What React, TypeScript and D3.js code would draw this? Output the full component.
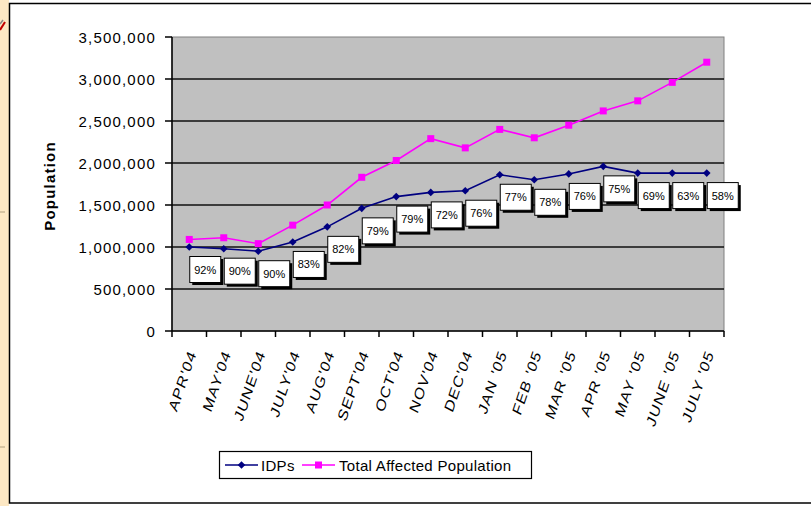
import React from 'react';
import { scaleBand, scaleLinear, line, format } from 'd3';

const months = ["APR'04", "MAY'04", "JUNE'04", "JULY'04", "AUG'04", "SEPT'04", "OCT'04", "NOV'04", "DEC'04",
  "JAN '05", "FEB '05", "MAR '05", "APR '05", "MAY '05", "JUNE '05", "JULY '05"];
const idps = [1000000, 980000, 950000, 1060000, 1240000, 1460000, 1600000, 1650000, 1670000,
  1860000, 1800000, 1870000, 1960000, 1880000, 1880000, 1880000];
const totalAffected = [1090000, 1110000, 1040000, 1260000, 1500000, 1830000, 2030000, 2290000, 2180000,
  2400000, 2300000, 2450000, 2620000, 2740000, 2960000, 3200000];
const idpShare = ["92%", "90%", "90%", "83%", "82%", "79%", "79%", "72%", "76%", "77%", "78%", "76%", "75%", "69%", "63%", "58%"];
const yTicks = [0, 500000, 1000000, 1500000, 2000000, 2500000, 3000000, 3500000];

const W = 811, H = 506;
const plot = { left: 172, right: 724, top: 37, bottom: 331 };
const font = "'Liberation Sans', Arial, sans-serif";
const navy = "#000080";
const magenta = "#ff00ff";

export default function App() {
  const x = scaleBand<string>().domain(months).range([plot.left, plot.right]);
  const y = scaleLinear().domain([0, 3500000]).range([plot.bottom, plot.top]);
  const cx = (i: number) => (x(months[i]) as number) + x.bandwidth() / 2;
  const fmt = format(",");

  const pathOf = line<number>().x((_, i) => cx(i)).y(d => y(d));

  const diamond = (px: number, py: number, r = 3.8) =>
    `M${px},${py - r}L${px + r},${py}L${px},${py + r}L${px - r},${py}Z`;

  const boxW = 31, boxH = 26, shadow = 3;

  return (
    <svg width={W} height={H} viewBox={`0 0 ${W} ${H}`}
      style={{ position: 'absolute', left: 0, top: 0, background: '#fff' }}>
      {/* slide edge on the left */}
      <rect x={0} y={0} width={9} height={H} fill="#fde8c4" />
      <line x1={0} y1={212} x2={5} y2={212} stroke="#b0a080" />
      <line x1={0} y1={447} x2={5} y2={447} stroke="#b0a080" />
      <path d="M0,30L5,22" stroke="#c00000" strokeWidth={2} />
      <path d="M0,24L3,20" stroke="#888" strokeWidth={1.5} />
      {/* chart frame */}
      <rect x={9.5} y={3.5} width={W + 10} height={499.5} fill="#fff" stroke="#000" strokeWidth={1.5} />

      {/* plot area */}
      <rect x={plot.left} y={plot.top} width={plot.right - plot.left} height={plot.bottom - plot.top}
        fill="#c0c0c0" stroke="#808080" strokeWidth={1} />
      {yTicks.filter(t => t > 0 && t < 3500000).map(t => (
        <line key={t} x1={plot.left} x2={plot.right} y1={y(t)} y2={y(t)} stroke="#111" strokeWidth={1.5} />
      ))}

      {/* y axis */}
      <line x1={plot.left} x2={plot.left} y1={plot.top} y2={plot.bottom} stroke="#000" strokeWidth={1.5} />
      {yTicks.map(t => (
        <g key={t}>
          <line x1={plot.left - 7} x2={plot.left} y1={y(t)} y2={y(t)} stroke="#000" strokeWidth={1.5} />
          <text x={156} y={y(t)} textAnchor="end" dominantBaseline="central" fontFamily={font}
            fontSize={15} letterSpacing={1.2} fill="#000">{fmt(t)}</text>
        </g>
      ))}
      <text transform={`translate(55,186) rotate(-90)`} textAnchor="middle" fontFamily={font}
        fontSize={15} fontWeight="bold" letterSpacing={1.2} fill="#000">Population</text>

      {/* x axis */}
      <line x1={plot.left} x2={plot.right} y1={plot.bottom} y2={plot.bottom} stroke="#000" strokeWidth={1.5} />
      {months.map((m, i) => {
        const bx = x(m) as number;
        return (
          <g key={m}>
            <line x1={bx} x2={bx} y1={plot.bottom} y2={plot.bottom + 6} stroke="#000" strokeWidth={1.5} />
            <text transform={`translate(${cx(i) + 3},${plot.bottom + 20}) scale(1,1.25) rotate(-67)`} textAnchor="end"
              dominantBaseline="central" fontFamily={font} fontSize={13.5} letterSpacing={1} fill="#000">{m}</text>
          </g>
        );
      })}
      <line x1={plot.right} x2={plot.right} y1={plot.bottom} y2={plot.bottom + 6} stroke="#000" strokeWidth={1.5} />

      {/* series */}
      <path d={pathOf(totalAffected) || ''} fill="none" stroke={magenta} strokeWidth={1.6} />
      {totalAffected.map((v, i) => (
        <rect key={i} x={cx(i) - 3.5} y={y(v) - 3.5} width={7} height={7} fill={magenta} />
      ))}
      <path d={pathOf(idps) || ''} fill="none" stroke={navy} strokeWidth={1.6} />
      {idps.map((v, i) => (
        <path key={i} d={diamond(cx(i), y(v))} fill={navy} />
      ))}

      {/* share labels */}
      {idpShare.map((s, i) => {
        const bx = cx(i);
        const by = y(idps[i]) + 9;
        return (
          <g key={i}>
            <rect x={bx + shadow} y={by + shadow} width={boxW} height={boxH} fill="#000" />
            <rect x={bx + 0.5} y={by + 0.5} width={boxW} height={boxH} fill="#fff" stroke="#000" strokeWidth={1} />
            <text x={bx + boxW / 2 + 0.5} y={by + boxH / 2 + 0.5} textAnchor="middle" dominantBaseline="central"
              fontFamily={font} fontSize={11} fill="#000">{s}</text>
          </g>
        );
      })}

      {/* legend */}
      <rect x={219.5} y={451.5} width={312} height={27} fill="#fff" stroke="#000" strokeWidth={1.2} />
      <line x1={225} x2={258} y1={465} y2={465} stroke={navy} strokeWidth={1.6} />
      <path d={diamond(241.5, 465)} fill={navy} />
      <text x={261} y={465} dominantBaseline="central" fontFamily={font} fontSize={15} letterSpacing={0.3} fill="#000">IDPs</text>
      <line x1={302} x2={335} y1={465} y2={465} stroke={magenta} strokeWidth={1.6} />
      <rect x={315} y={461.5} width={7} height={7} fill={magenta} />
      <text x={339} y={465} dominantBaseline="central" fontFamily={font} fontSize={15} letterSpacing={0.3} fill="#000">Total Affected Population</text>
    </svg>
  );
}
